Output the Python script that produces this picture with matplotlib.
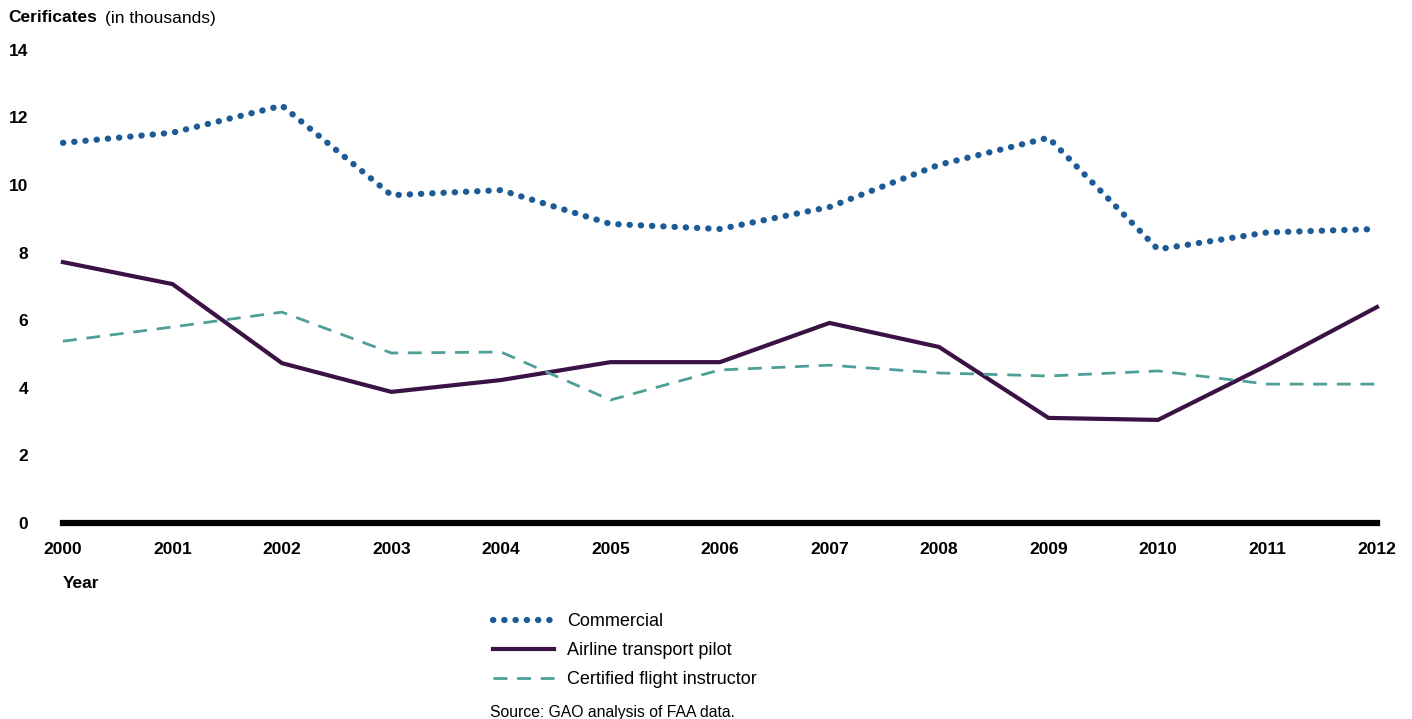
import matplotlib.pyplot as plt
from matplotlib.lines import Line2D

plt.rcParams['font.family'] = ['Liberation Sans', 'DejaVu Sans']

# Data (certificates in thousands)
years = [2000, 2001, 2002, 2003, 2004, 2005, 2006, 2007, 2008, 2009, 2010, 2011, 2012]
commercial = [11.25, 11.55, 12.35, 9.7, 9.85, 8.85, 8.7, 9.35, 10.6, 11.4, 8.1, 8.6, 8.7]
airline_transport = [7.72, 7.07, 4.73, 3.88, 4.23, 4.76, 4.76, 5.92, 5.21, 3.11, 3.05, 4.67, 6.39]
flight_instructor = [5.38, 5.8, 6.24, 5.03, 5.06, 3.64, 4.53, 4.67, 4.44, 4.35, 4.5, 4.11, 4.11]
y_ticks = [0, 2, 4, 6, 8, 10, 12, 14]

C_COMM = "#1D5B97"
C_ATP = "#3A1244"
C_CFI = "#4E9F98"
DOTS = (0, (0.05, 1.75))

fig = plt.figure(figsize=(14.12, 7.19), dpi=100, facecolor="white")
ax = fig.add_axes([0.0446, 0.2726, 0.9306, 0.658])

ax.plot(years, commercial, color=C_COMM, lw=4.5, linestyle=DOTS,
        dash_capstyle='round', solid_capstyle='round')
ax.plot(years, airline_transport, color=C_ATP, lw=3.0, solid_joinstyle='miter')
ax.plot(years, flight_instructor, color=C_CFI, lw=2.0, linestyle=(0, (5, 3.5)))

ax.axhline(0, color="black", lw=4.5, zorder=5)

ax.set_xlim(2000, 2012)
ax.set_ylim(0, 14)
ax.set_xticks(years)
ax.set_yticks(y_ticks)
ax.tick_params(axis='both', length=0, labelsize=12.5)
ax.tick_params(axis='y', pad=25)
ax.tick_params(axis='x', pad=14)
for lab in ax.get_xticklabels() + ax.get_yticklabels():
    lab.set_fontweight('bold')
for s in ax.spines.values():
    s.set_visible(False)
for ln in ax.lines:
    ln.set_clip_on(False)

# Axis titles
fig.text(8 / 1412, 1 - 18 / 719, "Cerificates", fontsize=12.5, fontweight='bold', va='center', ha='left')
fig.text(105 / 1412, 1 - 18 / 719, "(in thousands)", fontsize=12.5, va='center', ha='left')
fig.text(63 / 1412, 1 - 583 / 719, "Year", fontsize=12.5, fontweight='bold', va='center', ha='left')

# Legend
handles = [
    Line2D([], [], color=C_COMM, lw=4.5, linestyle=DOTS, dash_capstyle='round'),
    Line2D([], [], color=C_ATP, lw=3.0),
    Line2D([], [], color=C_CFI, lw=2.0, linestyle=(0, (5, 3.5))),
]
labels = ["Commercial", "Airline transport pilot", "Certified flight instructor"]
fig.legend(handles, labels, loc='upper left', bbox_to_anchor=(484 / 1412, 1 - 604 / 719),
           frameon=False, fontsize=13, handlelength=3.4, handletextpad=0.7,
           labelspacing=0.67, borderpad=0)

fig.text(490 / 1412, 1 - 712 / 719, "Source: GAO analysis of FAA data.", fontsize=11.3,
         va='center', ha='left')

fig.savefig("out.png", dpi=100, facecolor="white")
